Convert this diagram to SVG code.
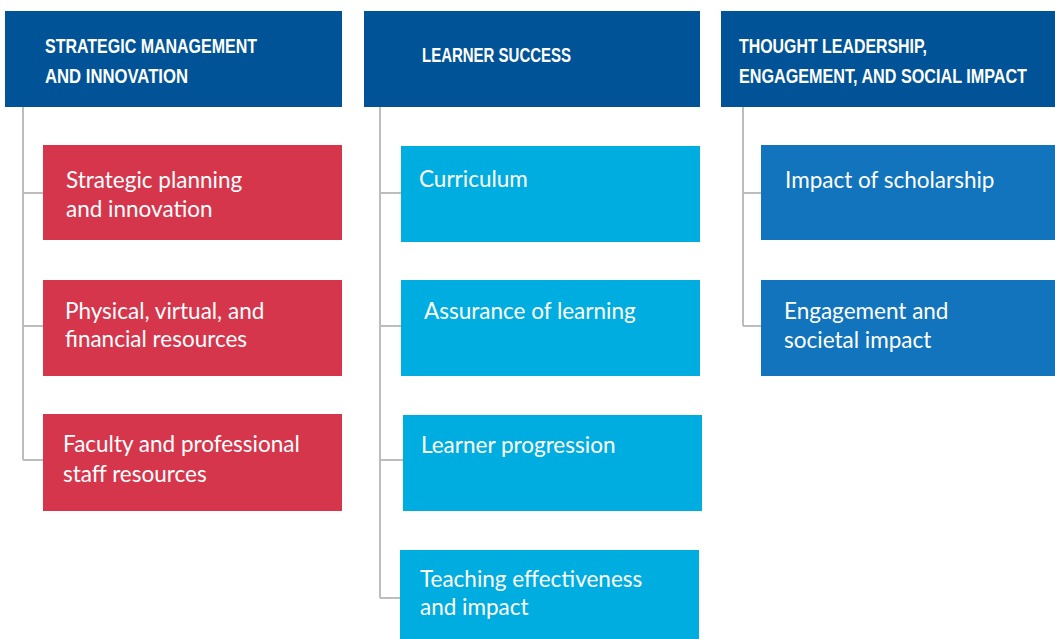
<svg xmlns="http://www.w3.org/2000/svg" width="1055" height="639" viewBox="0 0 1055 639">
<style>
.hdr{fill:#005396}
.red{fill:#D5364C}
.lb{fill:#00ADE0}
.mb{fill:#1174BD}
.ht{font-family:"Liberation Sans",Arial,sans-serif;font-weight:bold;font-size:19.5px;fill:#fff}
.bt{font-family:Lato,"Noto Sans",sans-serif;font-size:22.5px;fill:#fff}
.conn{stroke:#BDBDBD;stroke-width:2;fill:none}
</style>
<rect width="1055" height="639" fill="#fff"/>
<g id="connectors">
<path class="conn" d="M23 107V460M23 193H43M23 326H43M23 460H43"/>
<path class="conn" d="M380 107V598M380 193H401M380 326H401M380 460H403M380 598H400"/>
<path d="M400 598H415" stroke="#1E6F8C" stroke-width="2"/>
<path class="conn" d="M743 107V326M743 193H761M743 326H761"/>
</g>
<g id="h1"><rect class="hdr" x="5" y="11" width="337" height="96"/>
<text class="ht" transform="translate(45 53) scale(0.85 1)" textLength="249.4" lengthAdjust="spacingAndGlyphs">STRATEGIC MANAGEMENT</text>
<text class="ht" transform="translate(45 82.5) scale(0.85 1)" textLength="168.2" lengthAdjust="spacingAndGlyphs">AND INNOVATION</text></g>
<g id="h2"><rect class="hdr" x="364" y="11" width="336" height="96"/>
<text class="ht" transform="translate(422 61.5) scale(0.85 1)" textLength="175.3" lengthAdjust="spacingAndGlyphs">LEARNER SUCCESS</text></g>
<g id="h3"><rect class="hdr" x="721" y="11" width="334" height="96"/>
<text class="ht" transform="translate(739 53) scale(0.85 1)" textLength="221.2" lengthAdjust="spacingAndGlyphs">THOUGHT LEADERSHIP,</text>
<text class="ht" transform="translate(739 82.5) scale(0.85 1)" textLength="338.8" lengthAdjust="spacingAndGlyphs">ENGAGEMENT, AND SOCIAL IMPACT</text></g>
<g id="n1"><rect class="red" x="43" y="145" width="299" height="95"/>
<text class="bt" x="66" y="188">Strategic planning</text>
<text class="bt" x="66" y="217">and innovation</text></g>
<g id="n2"><rect class="red" x="43" y="280" width="299" height="96"/>
<text class="bt" x="65" y="319">Physical, virtual, and</text>
<text class="bt" x="65" y="347">financial resources</text></g>
<g id="n3"><rect class="red" x="43" y="414" width="299" height="97"/>
<text class="bt" x="63" y="452">Faculty and professional</text>
<text class="bt" x="63" y="482">staff resources</text></g>
<g id="n4"><rect class="lb" x="401" y="146" width="299" height="96"/>
<text class="bt" x="419" y="187">Curriculum</text></g>
<g id="n5"><rect class="lb" x="401" y="280" width="299" height="96"/>
<text class="bt" x="424" y="319">Assurance of learning</text></g>
<g id="n6"><rect class="lb" x="403" y="415" width="299" height="96"/>
<text class="bt" x="421" y="453">Learner progression</text></g>
<g id="n7"><rect class="lb" x="400" y="550" width="299" height="89"/>
<text class="bt" x="420" y="587">Teaching effectiveness</text>
<text class="bt" x="420" y="615">and impact</text></g>
<g id="n8"><rect class="mb" x="761" y="145" width="294" height="95"/>
<text class="bt" x="785" y="188">Impact of scholarship</text></g>
<g id="n9"><rect class="mb" x="761" y="280" width="294" height="96"/>
<text class="bt" x="784" y="319">Engagement and</text>
<text class="bt" x="784" y="348">societal impact</text></g>
</svg>
